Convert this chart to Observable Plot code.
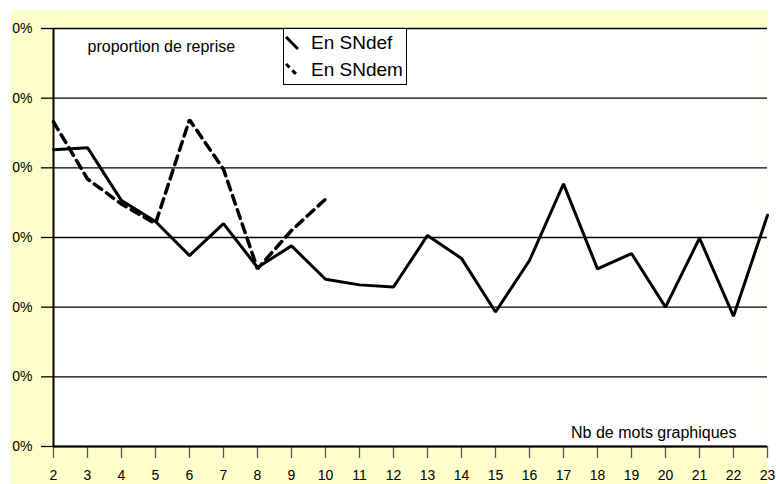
<!DOCTYPE html>
<html>
<head>
<meta charset="utf-8">
<script src="https://cdn.jsdelivr.net/npm/d3@7"></script>
<script src="https://cdn.jsdelivr.net/npm/@observablehq/plot@0.6"></script>
<style>
  html, body { margin: 0; padding: 0; background: #ffffff; }
  #wrap { position: relative; width: 776px; height: 484px; overflow: hidden; font-family: "Liberation Sans", Arial, sans-serif; }
  #bg { position: absolute; left: 11px; top: 10px; width: 757px; height: 474px; background: #ffffcc; }
  #chart { position: absolute; left: 0; top: 0; background: transparent; }
  #chart svg { background: transparent !important; }
  #legend { position: absolute; left: 283px; top: 28px; width: 124px; height: 57px; border: 1px solid #000; background: #fff; box-sizing: border-box; }
  .lg-row { position: absolute; left: 0; height: 22px; display: flex; align-items: center; }
  .lg-row svg { margin-left: 1px; }
  .lg-row span { font-size: 19px; color: #000; margin-left: 12px; }
</style>
</head>
<body>
<div id="wrap">
  <div id="bg"></div>
  <div id="chart"></div>
  <div id="legend"></div>
</div>
<script>
// Data (y in fractions of the axis, gridlines every 0.1)
const nbMots = [2,3,4,5,6,7,8,9,10,11,12,13,14,15,16,17,18,19,20,21,22,23];
const snDef = [0.426,0.429,0.353,0.323,0.274,0.320,0.257,0.288,0.240,0.232,0.229,0.303,0.270,0.193,0.267,0.377,0.255,0.277,0.200,0.299,0.187,0.332];
const nbMotsDem = [2,3,4,5,6,7,8,9,10];
const snDem = [0.466,0.384,0.348,0.320,0.469,0.398,0.255,0.310,0.355];
const yTicks = [0,0.1,0.2,0.3,0.4,0.5,0.6];
const yTickLabels = ["0%","0%","0%","0%","0%","0%","0%"];
const seriesNames = ["En SNdef","En SNdem"];
const annotTop = "proportion de reprise";
const annotX = "Nb de mots graphiques";

const defData = nbMots.map((x,i) => ({x, y: snDef[i]}));
const demData = nbMotsDem.map((x,i) => ({x, y: snDem[i]}));

const chart = Plot.plot({
  width: 776,
  height: 484,
  marginLeft: 53,
  marginRight: 9,
  marginTop: 28,
  marginBottom: 38,
  style: { background: "transparent", fontFamily: "'Liberation Sans', Arial, sans-serif", color: "#000" },
  x: { domain: [2, 23] },
  y: { domain: [0, 0.6] },
  marks: [
    Plot.frame({ fill: "white", stroke: null }),
    Plot.ruleY(yTicks, { stroke: "#000", strokeWidth: 1.3 }),
    Plot.axisY({ ticks: yTicks, tickFormat: (d, i) => yTickLabels[i], tickSize: 12, tickPadding: 9, fontSize: 14, stroke: "#000", strokeOpacity: 1, strokeWidth: 1.3, label: null }),
    Plot.axisX({ ticks: nbMots, tickFormat: d => String(d), tickSize: 12, tickPadding: 12, fontSize: 14, stroke: "#555", strokeOpacity: 1, strokeWidth: 1.3, label: null }),
    Plot.ruleX([2], { stroke: "#000", strokeWidth: 2 }),
    Plot.ruleY([0], { stroke: "#000", strokeWidth: 2 }),
    Plot.line(defData, { x: "x", y: "y", stroke: "#000", strokeWidth: 3, strokeLinejoin: "miter" }),
    Plot.line(demData, { x: "x", y: "y", stroke: "#000", strokeWidth: 3.5, strokeDasharray: "9,6", strokeLinejoin: "miter" }),
    Plot.text([annotTop], { frameAnchor: "top-left", dx: 34, dy: 18, textAnchor: "start", lineAnchor: "middle", fontSize: 16, fill: "#000" }),
    Plot.text([annotX], { frameAnchor: "bottom-right", dx: -31, dy: -14, textAnchor: "end", lineAnchor: "middle", fontSize: 16, fill: "#000" })
  ]
});
chart.style.background = "transparent";
document.getElementById("chart").appendChild(chart);

// Legend
const legend = document.getElementById("legend");
seriesNames.forEach((name, i) => {
  const row = document.createElement("div");
  row.className = "lg-row";
  row.style.top = (i === 0 ? 3 : 30) + "px";
  const dash = i === 0 ? "" : 'stroke-dasharray="5,4"';
  row.innerHTML = `<svg width="14" height="14"><line x1="1" y1="1" x2="13" y2="13" stroke="#000" stroke-width="3" ${dash}/></svg><span>${name}</span>`;
  legend.appendChild(row);
});
</script>
</body>
</html>
